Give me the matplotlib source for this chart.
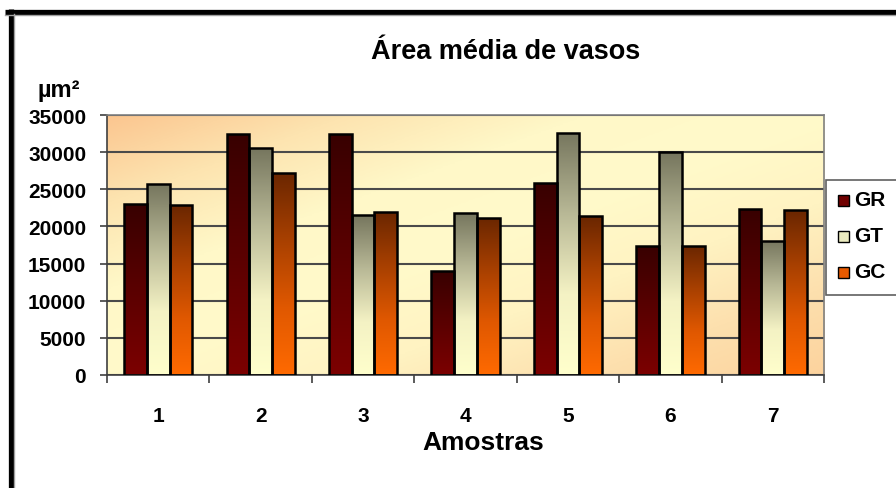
import numpy as np
import matplotlib
matplotlib.use("Agg")
import matplotlib.pyplot as plt
from matplotlib.colors import LinearSegmentedColormap
from matplotlib.patches import Rectangle
from matplotlib.lines import Line2D

plt.rcParams['font.family'] = ['Liberation Sans', 'DejaVu Sans']

# Data
samples = ['1', '2', '3', '4', '5', '6', '7']
series = ['GR', 'GT', 'GC']
gr = [23000, 32500, 32500, 14000, 25900, 17400, 22400]
gt = [25700, 30500, 21500, 21800, 32600, 30000, 18100]
gc = [22900, 27200, 22000, 21200, 21400, 17400, 22200]
values = [gr, gt, gc]

title = 'Área média de vasos'
xlabel = 'Amostras'
unit = 'µm²'
yticks = [0, 5000, 10000, 15000, 20000, 25000, 30000, 35000]

# Vertical gradients for each series, listed bottom -> top
grads = [
    LinearSegmentedColormap.from_list('gr', ['#7c0000', '#5a0000', '#380000']),
    LinearSegmentedColormap.from_list('gt', ['#ffffcc', '#f4f2c4', '#b8b896', '#76765e']),
    LinearSegmentedColormap.from_list('gc', ['#ff6a00', '#e05800', '#a84000', '#6a2600']),
]
legend_colors = ['#700000', '#ececc0', '#e85a00']

W, H = 896, 489
fig = plt.figure(figsize=(W / 100, H / 100), dpi=100)
fig.patch.set_facecolor('white')

left, right, top, bottom = 107, 824, 116, 376
ax = fig.add_axes([left / W, 1 - bottom / H, (right - left) / W, (bottom - top) / H])

n = len(samples)
x = np.arange(n)
group = 2 / 3
bw = group / len(series)
xlim = (-0.5, n - 0.5)
ylim = (0, 35000)

# Plot area background: diagonal orange -> light yellow -> orange
gx, gy = np.meshgrid(np.linspace(0, 1, 300), np.linspace(1, 0, 200))
t = (gx + (1 - gy)) / 2
bg_cmap = LinearSegmentedColormap.from_list(
    'bg', ['#fbc690', '#fde4b0', '#fff8c8', '#fffaca', '#fff3c2', '#fde0ae', '#fcd39e'])
ax.imshow(t, extent=(xlim[0], xlim[1], ylim[0], ylim[1]), cmap=bg_cmap,
          aspect='auto', origin='upper', zorder=0, interpolation='bilinear')

ax.set_axisbelow(True)
ax.yaxis.grid(True, color='#4a4a4a', linewidth=1.5, zorder=1)

ramp = np.linspace(0, 1, 256).reshape(-1, 1)
for k, (vals, cmap) in enumerate(zip(values, grads)):
    offs = (k - (len(series) - 1) / 2) * bw
    bars = ax.bar(x + offs, vals, width=bw, facecolor='none', edgecolor='black',
                  linewidth=1.8, zorder=3)
    for rect in bars:
        x0, w, h = rect.get_x(), rect.get_width(), rect.get_height()
        im = ax.imshow(ramp, extent=(x0, x0 + w, 0, h), cmap=cmap, aspect='auto',
                       origin='lower', zorder=2, interpolation='bilinear')
        im.set_clip_path(rect)

ax.set_xlim(*xlim)
ax.set_ylim(*ylim)

ax.set_yticks(yticks)
ax.set_yticklabels([str(v) for v in yticks], fontsize=15, fontweight='bold')
ax.tick_params(axis='y', direction='out', length=5, width=1.2, color='#404040', pad=10)

ax.set_xticks(np.arange(-0.5, n, 1.0))
ax.set_xticklabels([])
ax.set_xticks(x, minor=True)
ax.set_xticklabels(samples, minor=True, fontsize=15, fontweight='bold')
ax.tick_params(axis='x', which='major', direction='out', length=6, width=1.2, color='#404040')
ax.tick_params(axis='x', which='minor', length=0, pad=22)

for s in ax.spines.values():
    s.set_color('#808080')
    s.set_linewidth(1.2)
ax.spines['left'].set_color('#404040')
ax.spines['bottom'].set_color('#404040')

fig.text(506 / W, 1 - 52 / H, title, ha='center', va='center', fontsize=19.5, fontweight='bold')
fig.text(483 / W, 1 - 443 / H, xlabel, ha='center', va='center', fontsize=19, fontweight='bold')
fig.text(59 / W, 1 - 90 / H, unit, ha='center', va='center', fontsize=17, fontweight='bold')

# Legend box, running off the right edge
fig.add_artist(Rectangle((826 / W, 1 - 296 / H), 80 / W, 115 / H, transform=fig.transFigure,
                         facecolor='white', edgecolor='#606060', linewidth=1.2, clip_on=False))
for k, (name, col) in enumerate(zip(series, legend_colors)):
    yc = 1 - (201 + 36 * k) / H
    fig.add_artist(Rectangle((838 / W, yc - 5.5 / H), 11 / W, 11 / H, transform=fig.transFigure,
                             facecolor=col, edgecolor='black', linewidth=1.0))
    fig.text(854 / W, yc, name, ha='left', va='center', fontsize=15, fontweight='bold')

# Outer frame (top and left edges)
fig.add_artist(Line2D([5 / W, 1], [1 - 12.5 / H, 1 - 12.5 / H], transform=fig.transFigure,
                      color='black', linewidth=3.8, solid_capstyle='butt'))
fig.add_artist(Line2D([10.5 / W, 10.5 / W], [1 - 10 / H, 0], transform=fig.transFigure,
                      color='black', linewidth=3.8, solid_capstyle='butt'))
fig.add_artist(Line2D([5 / W, 1], [1 - 16 / H, 1 - 16 / H], transform=fig.transFigure,
                      color='#a0a0a0', linewidth=1.0))
fig.add_artist(Line2D([14 / W, 14 / W], [1 - 15 / H, 0], transform=fig.transFigure,
                      color='#a0a0a0', linewidth=1.0))

fig.savefig('out.png', dpi=100)
